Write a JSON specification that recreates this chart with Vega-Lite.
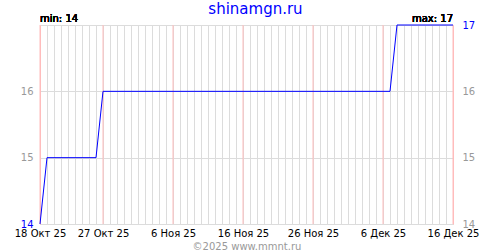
{
  "$schema": "https://vega.github.io/schema/vega-lite/v6.json",
  "width": 413,
  "height": 199,
  "autosize": {"type": "none"},
  "padding": {"left": 40, "top": 25, "right": 47, "bottom": 26},
  "background": "white",
  "title": {"text": "shinamgn.ru", "color": "#0000ff", "fontSize": 15, "font": "DejaVu Sans", "fontWeight": "normal", "anchor": "middle", "frame": "group", "offset": -3, "dx": 9},
  "config": {"view": {"stroke": null}, "font": "DejaVu Sans"},
  "datasets": {
    "prices": [
      {"date": "2025-10-18", "price": 14},
      {"date": "2025-10-19", "price": 15},
      {"date": "2025-10-26", "price": 15},
      {"date": "2025-10-27", "price": 16},
      {"date": "2025-12-07", "price": 16},
      {"date": "2025-12-08", "price": 17},
      {"date": "2025-12-16", "price": 17}
    ],
    "marks10": [
      {"date": "2025-10-18"},
      {"date": "2025-10-27"},
      {"date": "2025-11-06"},
      {"date": "2025-11-16"},
      {"date": "2025-11-26"},
      {"date": "2025-12-06"},
      {"date": "2025-12-16"}
    ]
  },
  "data": {"name": "prices"},
  "resolve": {"axis": {"y": "independent", "x": "independent"}},
  "layer": [
    {
      "mark": {"type": "line", "color": "#0000ff", "strokeWidth": 1, "strokeOpacity": 0},
      "encoding": {
        "x": {
          "field": "date", "type": "temporal",
          "scale": {"type": "utc", "nice": false, "domain": [{"year": 2025, "month": 10, "date": 18, "utc": true}, {"year": 2025, "month": 12, "date": 16, "utc": true}]},
          "axis": {
            "orient": "bottom",
            "tickCount": {"interval": "day", "step": 1},
            "grid": true,
            "gridColor": "#dcdcdc",
            "gridWidth": 1,
            "ticks": false,
            "domainColor": "#dcdcdc",
            "labelExpr": "((((time(datum.value) - utc(2025,9,27)) / 864e5) % 10 == 0) || time(datum.value) == utc(2025,9,18)) ? utcdate(datum.value) + ' ' + ['Янв','Фев','Мар','Апр','Май','Июн','Июл','Авг','Сен','Окт','Ноя','Дек'][utcmonth(datum.value)] + ' 25' : ''",
            "labelOverlap": false,
            "labelFlush": false,
            "labelColor": "black",
            "labelFontSize": 10,
            "labelPadding": 4,
            "title": "©2025 www.mmnt.ru",
            "titleColor": "#999999",
            "titleFontSize": 10,
            "titleFontWeight": "normal",
            "titlePadding": 3,
            "titleDx": 9
          }
        },
        "y": {
          "field": "price", "type": "quantitative",
          "scale": {"domain": [14, 17], "nice": false, "zero": false},
          "axis": {
            "orient": "left",
            "values": [14, 15, 16],
            "grid": false,
            "ticks": false,
            "domainColor": "#ffbcbc",
            "labelColor": {"condition": {"test": "datum.value == 14", "value": "#0000ff"}, "value": "#999999"},
            "labelFontSize": 10,
            "labelPadding": 7,
            "title": null
          }
        }
      }
    },
    {
      "data": {"name": "marks10"},
      "mark": {"type": "rule", "color": "#ffbcbc", "strokeWidth": 1},
      "encoding": {
        "x": {"field": "date", "type": "temporal", "axis": null}
      }
    },
    {
      "mark": {"type": "line", "color": "#0000ff", "strokeWidth": 1},
      "encoding": {
        "x": {"field": "date", "type": "temporal", "axis": null},
        "y": {"field": "price", "type": "quantitative", "axis": null}
      }
    },
    {
      "mark": {"type": "text", "text": "min: 14", "align": "left", "baseline": "alphabetic", "dy": -3, "fontSize": 10, "color": "black"},
      "encoding": {
        "x": {"datum": {"year": 2025, "month": 10, "date": 18, "utc": true}, "type": "temporal", "axis": null},
        "y": {"datum": 17, "type": "quantitative", "axis": null}
      }
    },
    {
      "mark": {"type": "text", "text": "max: 17", "align": "right", "baseline": "alphabetic", "dy": -3, "fontSize": 10, "color": "black"},
      "encoding": {
        "x": {"datum": {"year": 2025, "month": 12, "date": 16, "utc": true}, "type": "temporal", "axis": null},
        "y": {
          "datum": 17, "type": "quantitative",
          "axis": {
            "orient": "right",
            "values": [14, 15, 16, 17],
            "grid": true,
            "gridColor": "#dcdcdc",
            "ticks": false,
            "domainColor": "#ffbcbc",
            "labelColor": {"condition": {"test": "datum.value == 17", "value": "#0000ff"}, "value": "#999999"},
            "labelFontSize": 10,
            "labelPadding": 9,
            "title": null
          }
        }
      }
    }
  ]
}
